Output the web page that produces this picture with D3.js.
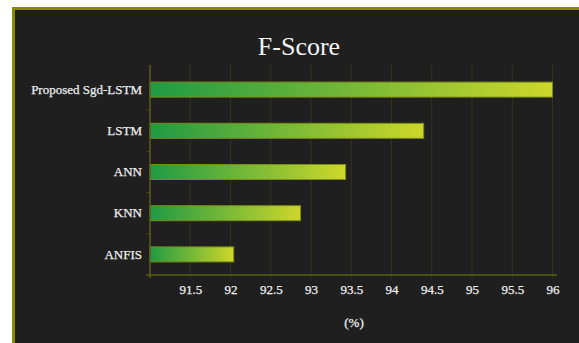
<!DOCTYPE html>
<html>
<head>
<meta charset="utf-8">
<script src="https://cdn.jsdelivr.net/npm/d3@7"></script>
<style>
  html, body { margin: 0; padding: 0; background: #ffffff; }
  svg { display: block; }
  text { font-family: "Liberation Serif", "Times New Roman", serif; }
</style>
</head>
<body>
<svg id="chart" width="579" height="343"></svg>
<script>
// F-Score per model (%)
const models = ["Proposed Sgd-LSTM", "LSTM", "ANN", "KNN", "ANFIS"];
const fScores = [96.0, 94.4, 93.43, 92.87, 92.04];
const xTicks = [91.5, 92, 92.5, 93, 93.5, 94, 94.5, 95, 95.5, 96];
const chartTitle = "F-Score";
const xTitle = "(%)";

const svg = d3.select("#chart");
const W = 579, H = 343;
const serif = "'Liberation Serif', 'Times New Roman', serif";

// panel with olive frame on top and left
svg.append("rect").attr("x", 12).attr("y", 7).attr("width", W - 12).attr("height", H - 7)
  .attr("fill", "#8a8a00");
svg.append("rect").attr("x", 15).attr("y", 10).attr("width", W - 15).attr("height", H - 10)
  .attr("fill", "#1f1f1f");

const plotLeft = 150, plotRight = 552.5, plotTop = 69, plotBottom = 275;

const x = d3.scaleLinear().domain([91, 96]).range([plotLeft, plotRight]);
const y = d3.scaleBand().domain(models).range([plotTop, plotBottom]).paddingInner(0.636).paddingOuter(0.318);

// per-bar gradient, green to yellow
const defs = svg.append("defs");
const grad = defs.append("linearGradient").attr("id", "barGrad")
  .attr("x1", "0%").attr("x2", "100%").attr("y1", "0%").attr("y2", "0%");
grad.append("stop").attr("offset", "0%").attr("stop-color", "#1f9a44");
grad.append("stop").attr("offset", "100%").attr("stop-color", "#ced72a");

// vertical grid lines
svg.append("g").selectAll("line").data(xTicks).join("line")
  .attr("x1", d => x(d)).attr("x2", d => x(d))
  .attr("y1", 65).attr("y2", 278)
  .attr("stroke", "#34341c").attr("stroke-width", 1);

// small tick marks at category boundaries on the y axis
const bounds = models.slice(1).map(m => y(m) - y.step() * y.paddingInner() / 2);
svg.append("g").selectAll("line").data(bounds).join("line")
  .attr("x1", plotLeft - 4).attr("x2", plotLeft)
  .attr("y1", d => d).attr("y2", d => d)
  .attr("stroke", "#45451a").attr("stroke-width", 1);

// bars
svg.append("g").selectAll("rect").data(models).join("rect")
  .attr("x", x(91))
  .attr("y", d => y(d))
  .attr("width", (d, i) => x(fScores[i]) - x(91))
  .attr("height", y.bandwidth())
  .attr("fill", "url(#barGrad)")
  .attr("stroke", "#7d8d14").attr("stroke-width", 1);

// axis lines
svg.append("line").attr("x1", plotLeft).attr("x2", plotLeft).attr("y1", 65).attr("y2", 278)
  .attr("stroke", "#5e5e14").attr("stroke-width", 1.5);
svg.append("line").attr("x1", 146).attr("x2", 557).attr("y1", plotBottom).attr("y2", plotBottom)
  .attr("stroke", "#5e5e14").attr("stroke-width", 1.5);

// x tick labels
const xAxis = d3.axisBottom(x).tickValues(xTicks).tickSize(0).tickPadding(0).tickFormat(d3.format("~g"));
const gx = svg.append("g").attr("transform", `translate(0,${plotBottom})`).call(xAxis);
gx.select(".domain").remove();
gx.selectAll("text")
  .attr("y", 19).attr("dy", 0)
  .attr("fill", "#eeeeee")
  .attr("stroke", "#eeeeee").attr("stroke-width", 0.25)
  .style("font-size", "13px")
  .style("font-family", serif);

// y category labels
const yAxis = d3.axisLeft(y).tickSize(0).tickPadding(8);
const gy = svg.append("g").attr("transform", `translate(${plotLeft},0)`).call(yAxis);
gy.select(".domain").remove();
gy.selectAll("text")
  .attr("fill", "#eeeeee")
  .attr("stroke", "#eeeeee").attr("stroke-width", 0.25)
  .attr("dy", "0.32em")
  .style("font-size", "13px")
  .style("font-family", serif);

// title and axis title
svg.append("text").attr("x", 299).attr("y", 55).attr("text-anchor", "middle")
  .attr("fill", "#f2f2f2").style("font-size", "26px").style("font-family", serif).text(chartTitle);
svg.append("text").attr("x", 354).attr("y", 327).attr("text-anchor", "middle")
  .attr("fill", "#eeeeee").attr("stroke", "#eeeeee").attr("stroke-width", 0.25)
  .style("font-size", "13px").style("font-family", serif).text(xTitle);
</script>
</body>
</html>
